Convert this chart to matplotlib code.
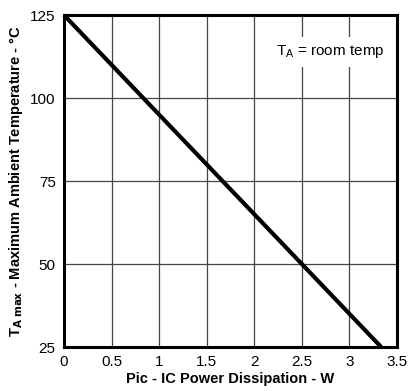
import matplotlib
matplotlib.use("Agg")
import matplotlib.pyplot as plt

plt.rcParams['font.family'] = ['Liberation Sans', 'DejaVu Sans']

power_w = [0.0, 3.333]
temp_c = [125, 25]
x_ticks = [0, 0.5, 1, 1.5, 2, 2.5, 3, 3.5]
x_tick_labels = ["0", "0.5", "1", "1.5", "2", "2.5", "3", "3.5"]
y_ticks = [25, 50, 75, 100, 125]
y_tick_labels = ["25", "50", "75", "100", "125"]

fig = plt.figure(figsize=(4.11, 3.91), dpi=100)
ax = fig.add_axes([0.1557, 0.1125, 0.8103, 0.849])
ax.set_xlim(0, 3.5)
ax.set_ylim(25, 125)
ax.set_xticks(x_ticks)
ax.set_xticklabels(x_tick_labels)
ax.set_yticks(y_ticks)
ax.set_yticklabels(y_tick_labels)
ax.tick_params(length=0, labelsize=11, pad=6)
ax.grid(True, color='#444444', linewidth=0.9)
ax.set_axisbelow(True)
for s in ax.spines.values():
    s.set_linewidth(2.2)
    s.set_color('black')

ax.plot(power_w, temp_c, color='black', linewidth=3, solid_capstyle='butt', clip_on=False, zorder=3)

ax.text(0.636, 0.889, "T$_\\mathregular{A}$ = room temp", transform=ax.transAxes,
        fontsize=11, va='center', ha='left',
        bbox=dict(facecolor='white', edgecolor='none', pad=5), zorder=4)

ax.set_xlabel("Pic - IC Power Dissipation - W", fontsize=10.5, fontweight='bold', labelpad=2)
ax.set_ylabel("T$_\\mathregular{\\bf{A\\ max}}$ - Maximum Ambient Temperature - °C",
              fontsize=10.5, fontweight='bold', labelpad=4)

fig.savefig("out.png", dpi=100)
